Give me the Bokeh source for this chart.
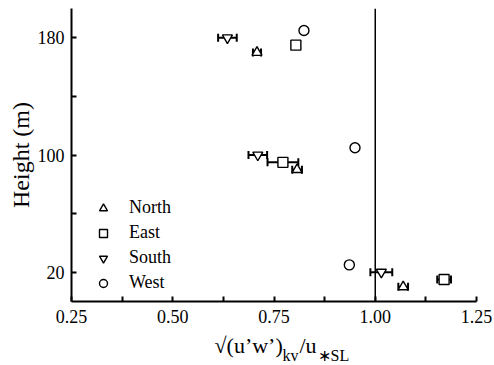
import numpy as np
from bokeh.plotting import figure
from bokeh.layouts import column
from bokeh.core.properties import value
from bokeh.models import (ColumnDataSource, FixedTicker, PrintfTickFormatter, Span,
                          Legend, LegendItem, Range1d, Whisker, TeeHead)
from bokeh.embed import file_html
from bokeh.resources import INLINE

# Normalised stress ratio sqrt(u'w')_kv / u*_SL at the three mast levels,
# one series per wind sector (heights are staggered a little so the
# sectors do not sit on top of each other).
north_ratio = [0.708, 0.807, 1.069]
north_err = [0.010, 0.012, 0.012]
north_height = [170, 90, 10]

east_ratio = [0.804, 0.772, 1.170]
east_err = [0.0, 0.038, 0.017]
east_height = [175, 95, 15]

south_ratio = [0.635, 0.710, 1.015]
south_err = [0.023, 0.023, 0.027]
south_height = [180, 100, 20]

west_ratio = [0.824, 0.950, 0.936]
west_err = [0.0, 0.0, 0.0]
west_height = [185, 105, 25]

x_ticks = [0.25, 0.50, 0.75, 1.00, 1.25]
x_minor = [0.375, 0.625, 0.875, 1.125]
y_ticks = [20, 100, 180]
y_minor = [60, 140]

# pieces of the x-axis title: main text and sub-scripts
title_parts = ["√(u’w’)", "kv", "/u", "∗SL"]
title_is_sub = [False, True, False, True]

FONT = "Liberation Serif"

p = figure(width=494, height=330, x_range=Range1d(0.25, 1.25), y_range=Range1d(0, 200),
           output_backend="svg", toolbar_location=None,
           min_border_left=71, min_border_right=18, min_border_top=8, min_border_bottom=29)
p.outline_line_color = None
p.xgrid.visible = False
p.ygrid.visible = False
p.background_fill_color = "white"
p.border_fill_color = "white"

for ax in (p.xaxis[0], p.yaxis[0]):
    ax.axis_line_width = 2
    ax.major_tick_line_width = 2
    ax.minor_tick_line_width = 2
    ax.major_tick_in = 5
    ax.major_tick_out = 0
    ax.minor_tick_in = 5
    ax.minor_tick_out = 0
    ax.major_label_text_font = FONT
    ax.major_label_text_font_size = "18px"
    ax.major_label_text_color = "black"
    ax.axis_label_text_font = FONT
    ax.axis_label_text_font_style = "normal"
    ax.axis_label_text_color = "black"

p.xaxis[0].ticker = FixedTicker(ticks=x_ticks, minor_ticks=x_minor)
p.xaxis[0].formatter = PrintfTickFormatter(format="%.2f")
p.xaxis[0].major_label_standoff = 8

p.yaxis[0].ticker = FixedTicker(ticks=y_ticks, minor_ticks=y_minor)
p.yaxis[0].formatter = PrintfTickFormatter(format="%d")
p.yaxis[0].major_label_standoff = 7
p.yaxis[0].axis_label = "Height (m)"
p.yaxis[0].axis_label_text_font_size = "24px"
p.yaxis[0].axis_label_standoff = 1

# reference line at ratio = 1
p.add_layout(Span(location=1.0, dimension="height", line_color="black",
                  line_width=1.5, level="underlay"))

series = [
    ("North", "triangle", north_ratio, north_err, north_height),
    ("East", "square", east_ratio, east_err, east_height),
    ("South", "inverted_triangle", south_ratio, south_err, south_height),
    ("West", "circle", west_ratio, west_err, west_height),
]

items = []
for name, marker, ratio, err, height in series:
    r = np.array(ratio)
    e = np.array(err)
    h = np.array(height)
    has_err = e > 0
    if has_err.any():
        wsrc = ColumnDataSource(dict(base=h[has_err], lower=(r - e)[has_err],
                                     upper=(r + e)[has_err]))
        p.add_layout(Whisker(source=wsrc, base="base", lower="lower", upper="upper",
                             dimension="width", line_width=2, line_color="black",
                             lower_head=TeeHead(size=8, line_width=2, line_color="black"),
                             upper_head=TeeHead(size=8, line_width=2, line_color="black")))
    src = ColumnDataSource(dict(x=r, y=h))
    g = p.scatter("x", "y", source=src, marker=marker, size=10,
                  fill_color="white", line_color="black", line_width=1.4)
    items.append(LegendItem(label=name, renderers=[g]))

legend = Legend(items=items, location=(22, 8), border_line_color=None,
                background_fill_alpha=0, padding=0, margin=0, spacing=4,
                label_height=20, glyph_height=20, glyph_width=20, label_standoff=16,
                label_text_font=FONT, label_text_font_size="18px",
                label_text_color="black")
p.add_layout(legend)

# strip under the plot carrying the x-axis title; its frame lines up with the
# main frame (x = 71..476 px), so the range is given in page pixels
t = figure(width=494, height=35, x_range=Range1d(71, 476), y_range=Range1d(0, 35),
           x_axis_type=None, y_axis_type=None, output_backend="svg",
           toolbar_location=None, min_border=0)
t.outline_line_color = None
t.xgrid.visible = False
t.ygrid.visible = False
t.background_fill_color = "white"
t.border_fill_color = "white"

part_x = [214, 282, 299, 317]
main = [i for i, s in enumerate(title_is_sub) if not s]
sub = [i for i, s in enumerate(title_is_sub) if s]
t.text(x=[part_x[i] for i in main], y=[20] * len(main), text=[title_parts[i] for i in main],
       text_font=value(FONT), text_font_size="22px", text_color="black",
       text_baseline="alphabetic")
t.text(x=[part_x[i] for i in sub], y=[10] * len(sub), text=[title_parts[i] for i in sub],
       text_font=value(FONT), text_font_size="16px", text_color="black",
       text_baseline="alphabetic")

layout = column(p, t, spacing=0)
open("out.html", "w").write(file_html(layout, INLINE))
